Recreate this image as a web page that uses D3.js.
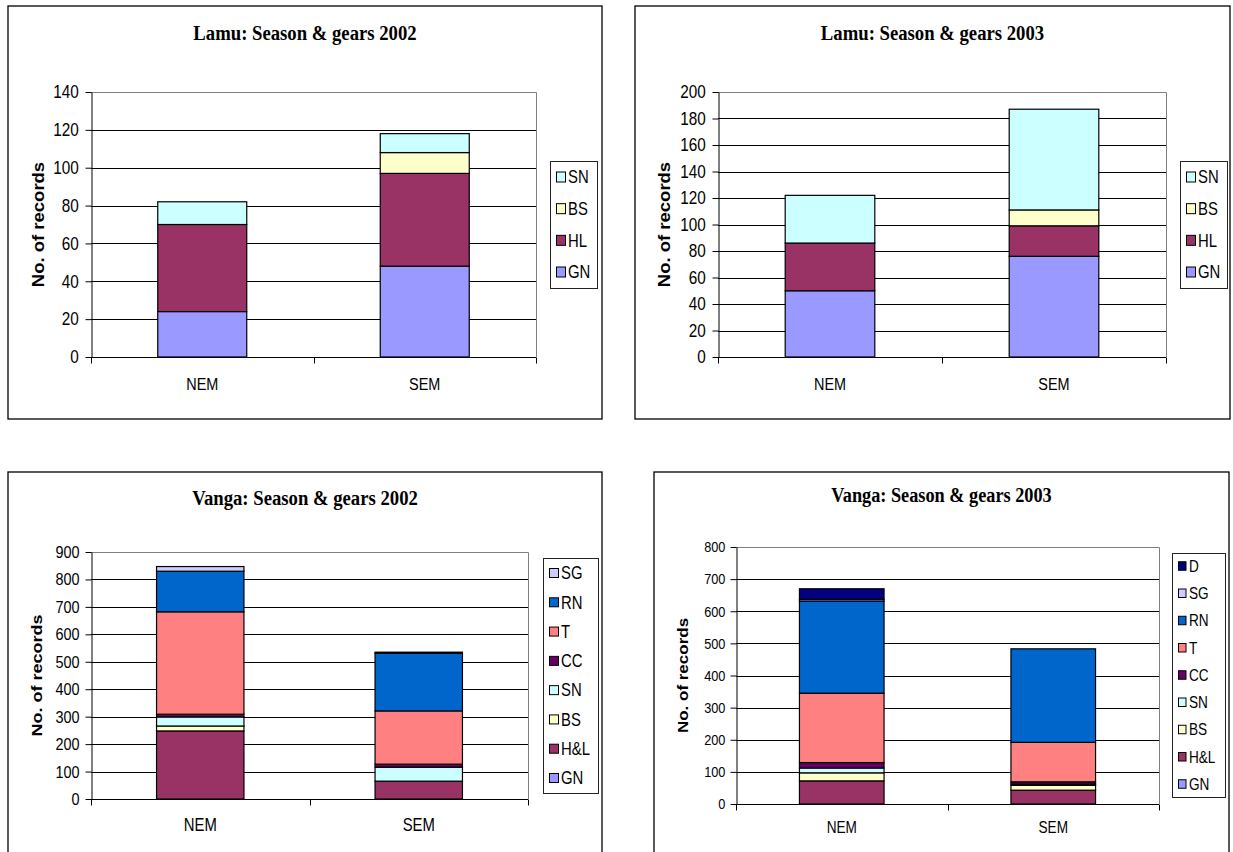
<!DOCTYPE html>
<html>
<head>
<meta charset="utf-8">
<script src="https://cdnjs.cloudflare.com/ajax/libs/d3/7.8.5/d3.min.js"></script>
<style>
body { margin: 0; background: #fff; }
text { font-family: "Liberation Sans", Arial, sans-serif; fill: #000; }
</style>
</head>
<body>
<div id="chart"></div>
<script>
// ---- data ----
var seasons = ["NEM", "SEM"];

var lamuGears = ["GN", "HL", "BS", "SN"];
var lamu2002NEM = [24, 46, 0, 12];
var lamu2002SEM = [48, 49, 11, 10];
var lamu2003NEM = [50, 36, 0, 36];
var lamu2003SEM = [76, 23, 12, 76];

var vanga2002Gears = ["GN", "H&L", "BS", "SN", "CC", "T", "RN", "SG"];
var vanga2002NEM = [0, 248, 18, 33, 10, 373, 148, 17];
var vanga2002SEM = [0, 65, 0, 51, 11, 194, 210, 4];

var vanga2003Gears = ["GN", "H&L", "BS", "SN", "CC", "T", "RN", "SG", "D"];
var vanga2003NEM = [0, 72, 25, 15, 17, 216, 287, 5, 33];
var vanga2003SEM = [0, 43, 15, 4, 7, 123, 291, 0, 0];

var lamu2002Ticks = [0, 20, 40, 60, 80, 100, 120, 140];
var lamu2003Ticks = [0, 20, 40, 60, 80, 100, 120, 140, 160, 180, 200];
var vanga2002Ticks = [0, 100, 200, 300, 400, 500, 600, 700, 800, 900];
var vanga2003Ticks = [0, 100, 200, 300, 400, 500, 600, 700, 800];

// excel-ish colours per gear
var gearColors = {
    "GN": "#9999FF", "HL": "#993366", "H&L": "#993366", "BS": "#FFFFCC",
    "SN": "#CCFFFF", "CC": "#660066", "T": "#FF8080", "RN": "#0066CC",
    "SG": "#CCCCFF", "D": "#000080"
};

var SQ = 0.85; // the original picture is squeezed sideways, text too

var svg = d3.select("#chart")
    .append("svg")
    .attr("width", 1233)
    .attr("height", 852);

svg.append("rect").attr("width", 1233).attr("height", 852).attr("fill", "#fff");

function drawPanel(p) {
    var g = svg.append("g");

    // outer frame
    g.append("rect")
        .attr("x", p.frame[0]).attr("y", p.frame[1])
        .attr("width", p.frame[2] - p.frame[0])
        .attr("height", p.frame[3] - p.frame[1])
        .attr("fill", "#fff")
        .attr("stroke", "#000")
        .attr("stroke-width", 1.3);

    // title
    g.append("text")
        .attr("transform", "translate(" + p.titleX + "," + p.titleY + ") scale(" + SQ + ",1)")
        .attr("text-anchor", "middle")
        .style("font-family", '"Liberation Serif", "Times New Roman", serif')
        .style("font-weight", "bold")
        .style("font-size", p.titleFont + "px")
        .text(p.title);

    var x = d3.scaleBand().domain(seasons).range([p.plot[0], p.plot[2]]);
    var y = d3.scaleLinear()
        .domain([0, p.ticks[p.ticks.length - 1]])
        .range([p.plot[3], p.plot[1]]);

    // gridlines
    g.append("g").selectAll("line")
        .data(p.ticks.slice(1, -1))
        .join("line")
        .attr("x1", p.plot[0]).attr("x2", p.plot[2])
        .attr("y1", d => Math.round(y(d)) + 0.5).attr("y2", d => Math.round(y(d)) + 0.5)
        .attr("stroke", "#000");

    // plot area border (top + right, grey)
    g.append("path")
        .attr("d", "M" + p.plot[0] + "," + (p.plot[1] + 0.5) + "H" + (p.plot[2] + 0.5) + "V" + p.plot[3])
        .attr("fill", "none")
        .attr("stroke", "#808080");

    // stacked bars
    var rows = seasons.map((s, i) => ({ season: s, values: p.values[i] }));
    var stack = d3.stack()
        .keys(p.gears)
        .value((d, k) => d.values[p.gears.indexOf(k)]);
    var series = stack(rows);

    g.append("g").selectAll("g")
        .data(series)
        .join("g")
        .attr("fill", d => gearColors[d.key])
        .selectAll("rect")
        .data(d => d)
        .join("rect")
        .attr("x", d => x(d.data.season) + x.bandwidth() * 0.3)
        .attr("width", x.bandwidth() * 0.4)
        .attr("y", d => y(d[1]))
        .attr("height", d => y(d[0]) - y(d[1]))
        .attr("stroke", "#000")
        .attr("stroke-width", 1.2);

    // y axis
    var yAxis = d3.axisLeft(y)
        .tickValues(p.ticks)
        .tickSize(6)
        .tickSizeOuter(0)
        .tickPadding(p.tickPad);
    var ya = g.append("g")
        .attr("transform", "translate(" + (p.plot[0] + 0.5) + ",0)")
        .call(yAxis)
        .attr("font-family", '"Liberation Sans", Arial, sans-serif');
    ya.select(".domain").attr("stroke", "#000");
    ya.selectAll("line").attr("stroke", "#000");
    ya.selectAll("text")
        .attr("transform", "scale(" + SQ + ",1)")
        .style("font-size", p.tickFont + "px")
        .attr("fill", "#000");

    // x axis: line + ticks at category edges
    var y0 = Math.round(y(0)) + 0.5;
    var xEdges = seasons.map(s => x(s)).concat([p.plot[2]]);
    g.append("line")
        .attr("x1", p.plot[0]).attr("x2", p.plot[2])
        .attr("y1", y0).attr("y2", y0)
        .attr("stroke", "#000");
    g.append("g").selectAll("line")
        .data(xEdges)
        .join("line")
        .attr("x1", d => Math.round(d) + 0.5).attr("x2", d => Math.round(d) + 0.5)
        .attr("y1", y0).attr("y2", y0 + 6)
        .attr("stroke", "#000");
    g.append("g").selectAll("text")
        .data(seasons)
        .join("text")
        .attr("transform", s => "translate(" + (x(s) + x.bandwidth() / 2) + "," + p.catY + ") scale(" + SQ + ",1)")
        .attr("text-anchor", "middle")
        .style("font-size", p.catFont + "px")
        .text(s => s);

    // y title
    g.append("text")
        .attr("transform", "translate(" + p.yTitleX + "," + ((p.plot[1] + p.plot[3]) / 2) + ") scale(" + SQ + ",1) rotate(-90)")
        .attr("text-anchor", "middle")
        .attr("dy", "0.35em")
        .style("font-weight", "bold")
        .style("font-size", p.yTitleFont + "px")
        .text("No. of records");

    // legend
    var lb = p.legend;
    g.append("rect")
        .attr("x", lb[0] + 0.5).attr("y", lb[1] + 0.5)
        .attr("width", lb[2] - lb[0]).attr("height", lb[3] - lb[1])
        .attr("fill", "#fff")
        .attr("stroke", "#222");
    var items = p.gears.slice().reverse();
    var step = (lb[3] - lb[1] - 2 * p.legPad) / (items.length - 1);
    var li = g.append("g").selectAll("g")
        .data(items)
        .join("g")
        .attr("transform", (d, i) => "translate(" + lb[0] + "," + (lb[1] + p.legPad + i * step) + ")");
    li.append("rect")
        .attr("x", 6.5)
        .attr("y", -p.swatch[1] / 2)
        .attr("width", p.swatch[0])
        .attr("height", p.swatch[1])
        .attr("fill", d => gearColors[d])
        .attr("stroke", "#000");
    li.append("text")
        .attr("transform", "translate(" + p.legTextX + ",0) scale(" + SQ + ",1)")
        .attr("dy", "0.36em")
        .style("font-size", p.legFont + "px")
        .text(d => d);
}

drawPanel({
    frame: [8, 6, 602, 419], plot: [91, 92, 536, 357],
    title: "Lamu: Season & gears 2002", titleX: 305, titleY: 40, titleFont: 22,
    gears: lamuGears, values: [lamu2002NEM, lamu2002SEM], ticks: lamu2002Ticks,
    tickFont: 18, tickPad: 9, catFont: 17, catY: 390, yTitleX: 38, yTitleFont: 18.5,
    legend: [550, 161, 597, 288], legPad: 16, legFont: 17.5, legTextX: 18, swatch: [9, 10]
});

drawPanel({
    frame: [635, 6, 1230, 419], plot: [718, 92, 1166, 357],
    title: "Lamu: Season & gears 2003", titleX: 932.5, titleY: 40, titleFont: 22,
    gears: lamuGears, values: [lamu2003NEM, lamu2003SEM], ticks: lamu2003Ticks,
    tickFont: 18, tickPad: 9, catFont: 17, catY: 390, yTitleX: 664, yTitleFont: 18.5,
    legend: [1180, 161, 1227, 288], legPad: 16, legFont: 17.5, legTextX: 18, swatch: [9, 10]
});

drawPanel({
    frame: [8, 472, 602, 880], plot: [91, 552, 528, 799],
    title: "Vanga: Season & gears 2002", titleX: 305, titleY: 505, titleFont: 22,
    gears: vanga2002Gears, values: [vanga2002NEM, vanga2002SEM], ticks: vanga2002Ticks,
    tickFont: 17, tickPad: 8, catFont: 17.5, catY: 831, yTitleX: 37, yTitleFont: 18,
    legend: [543, 558, 598, 793], legPad: 15, legFont: 17.5, legTextX: 18, swatch: [9, 9]
});

drawPanel({
    frame: [654, 472, 1229, 880], plot: [736, 547, 1159, 804],
    title: "Vanga: Season & gears 2003", titleX: 941.5, titleY: 502, titleFont: 21.5,
    gears: vanga2003Gears, values: [vanga2003NEM, vanga2003SEM], ticks: vanga2003Ticks,
    tickFont: 15, tickPad: 7, catFont: 16, catY: 833, yTitleX: 683, yTitleFont: 17,
    legend: [1172, 553, 1225, 797], legPad: 13, legFont: 16, legTextX: 17, swatch: [7.5, 8.5]
});
</script>
</body>
</html>
